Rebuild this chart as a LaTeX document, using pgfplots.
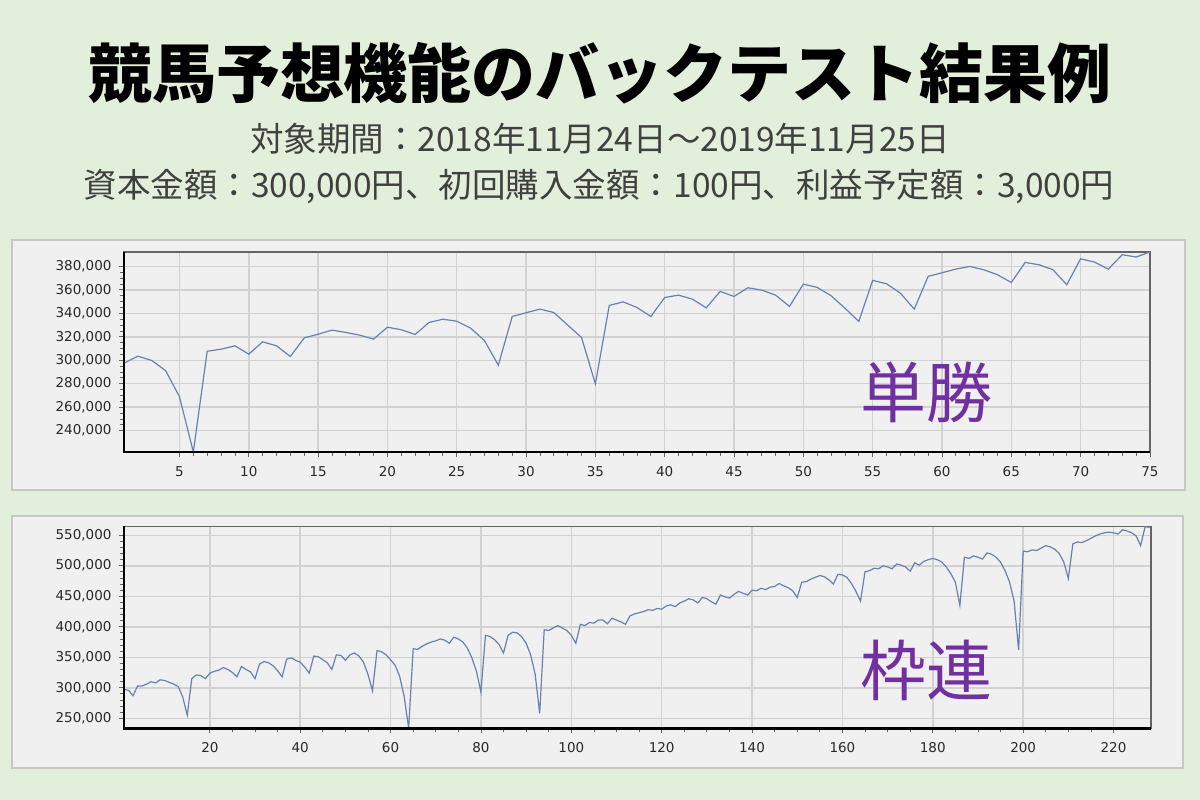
\documentclass[border=0pt]{standalone}
\usepackage{pgfplots}
\pgfplotsset{compat=1.18}
\usepackage{fontspec}
\newfontfamily\jp{Noto Sans CJK JP}
\newfontfamily\tickfont{DejaVu Sans}

\definecolor{bgc}{RGB}{226,239,218}
\definecolor{panelc}{RGB}{240,240,240}
\definecolor{panelb}{RGB}{200,200,200}
\definecolor{gridc}{RGB}{210,210,210}
\definecolor{framec}{RGB}{100,100,100}
\definecolor{linec}{RGB}{104,130,176}
\definecolor{purp}{RGB}{112,48,160}
\definecolor{subc}{RGB}{64,64,64}
\definecolor{tlc}{RGB}{40,40,40}

\pgfplotsset{
  panel/.style={
    scale only axis,
    anchor=south west,
    grid=major,
    major grid style={draw=gridc, line width=1.5pt},
    axis line style={draw=framec, line width=1.5pt},
    tick align=outside,
    xtick pos=bottom, ytick pos=left,
    tick style={draw=framec, line width=0.8pt},
    major tick length=5pt, minor tick length=4pt,
    ticklabel style={font=\tickfont\fontsize{13.5}{16}\selectfont, text=tlc},
    xticklabel style={yshift=-6pt},
    yticklabel style={xshift=-4pt},
    scaled y ticks=false,
    /pgf/number format/fixed,
    /pgf/number format/precision=0,
    /pgf/number format/1000 sep={,},
    /pgf/number format/assume math mode=true,
  },
}

\begin{document}
\begin{tikzpicture}[x=1pt,y=1pt]
\fill[bgc] (0,0) rectangle (1200,800);

% title and conditions
\node[font=\jp\bfseries\fontsize{64}{76}\selectfont] at (600,727) {競馬予想機能のバックテスト結果例};
\node[font=\jp\fontsize{33.5}{40}\selectfont, text=subc] at (600,661) {対象期間：2018年11月24日～2019年11月25日};
\node[font=\jp\fontsize{33.5}{40}\selectfont, text=subc] at (599,613) {資本金額：300,000円、初回購入金額：100円、利益予定額：3,000円};

% panels
\filldraw[fill=panelc, draw=panelb, line width=1.5pt] (12,310) rectangle (1185,560);
\filldraw[fill=panelc, draw=panelb, line width=1.5pt] (12,32) rectangle (1183,284);

% 単勝
\begin{axis}[panel, name=top,
  at={(124pt,348pt)}, width=1026pt, height=200pt,
  xmin=1, xmax=75, ymin=221800, ymax=392300,
  xtick={5,10,...,75}, minor x tick num=4,
  ytick={240000,260000,...,380000}, minor y tick num=3,
]
\addplot[linec, line width=1.2pt] coordinates {
(1,297500) (2,303500) (3,299800) (4,291200) (5,269000) (6,221800) (7,307700) (8,309400)
(9,312300) (10,305200) (11,315700) (12,312300) (13,303200) (14,319100) (15,322200) (16,325700)
(17,323700) (18,321400) (19,318000) (20,328200) (21,326000) (22,322000) (23,332200) (24,335000)
(25,333300) (26,327400) (27,316800) (28,295800) (29,337300) (30,340500) (31,343600) (32,340700)
(33,330000) (34,319400) (35,279900) (36,346700) (37,349800) (38,345000) (39,337300) (40,353500)
(41,355500) (42,352100) (43,344700) (44,358700) (45,354400) (46,361800) (47,359800) (48,355500)
(49,345900) (50,364900) (51,362100) (52,355000) (53,344400) (54,333100) (55,368100) (56,365200)
(57,357200) (58,343600) (59,371500) (60,374600) (61,377700) (62,380000) (63,377200) (64,372900)
(65,366300) (66,383400) (67,381400) (68,377200) (69,364400) (70,386500) (71,383700) (72,377700)
(73,390000) (74,388000) (75,392300)
};
\end{axis}
\draw[black, line width=2.5pt] (top.north west) -- (top.south west) -- (top.south east);
\node[font=\jp\fontsize{66}{70}\selectfont, text=purp] at (926,408) {単勝};

% 枠連
\begin{axis}[panel, name=bot,
  at={(124pt,71.7pt)}, width=1027pt, height=202pt,
  xmin=1, xmax=228.3, ymin=233600, ymax=564700,
  xtick={20,40,...,220}, minor x tick num=3,
  ytick={250000,300000,...,550000}, minor y tick num=4,
]
\addplot[linec, line width=1.2pt] coordinates {
(1,297000) (2,296000) (3,287000) (4,303000) (5,303000) (6,306000) (7,310000) (8,308000)
(9,313000) (10,312000) (11,309000) (12,306000) (13,302000) (14,285000) (15,255000) (16,315000)
(17,321000) (18,320000) (19,315000) (20,324000) (21,327000) (22,329000) (23,333000) (24,330000)
(25,325000) (26,318000) (27,335000) (28,330000) (29,326000) (30,315000) (31,339000) (32,343000)
(33,341000) (34,336000) (35,328000) (36,318000) (37,347000) (38,349000) (39,345000) (40,342000)
(41,334000) (42,324000) (43,352000) (44,351000) (45,346000) (46,341000) (47,330000) (48,354000)
(49,353000) (50,345000) (51,354000) (52,357000) (53,352000) (54,342000) (55,322000) (56,295000)
(57,361000) (58,359000) (59,354000) (60,346000) (61,337000) (62,319000) (63,286000) (64,233600)
(65,364000) (66,363000) (67,368000) (68,372000) (69,375000) (70,377000) (71,380000) (72,378000)
(73,373000) (74,383000) (75,380000) (76,375000) (77,365000) (78,349000) (79,327000) (80,293000)
(81,386000) (82,384000) (83,379000) (84,371000) (85,357000) (86,386000) (87,391000) (88,390000)
(89,384000) (90,373000) (91,354000) (92,322000) (93,258000) (94,395000) (95,394000) (96,398000)
(97,402000) (98,398000) (99,394000) (100,386000) (101,373000) (102,404000) (103,402000) (104,407000)
(105,406000) (106,411000) (107,411000) (108,405000) (109,414000) (110,411000) (111,408000) (112,404000)
(113,418000) (114,421000) (115,423000) (116,425000) (117,428000) (118,427000) (119,430000) (120,429000)
(121,434000) (122,436000) (123,433000) (124,439000) (125,442000) (126,446000) (127,444000) (128,439000)
(129,448000) (130,446000) (131,441000) (132,437000) (133,452000) (134,449000) (135,447000) (136,453000)
(137,458000) (138,455000) (139,452000) (140,460000) (141,459000) (142,463000) (143,461000) (144,465000)
(145,466000) (146,471000) (147,467000) (148,464000) (149,459000) (150,448000) (151,473000) (152,474000)
(153,478000) (154,481000) (155,484000) (156,482000) (157,477000) (158,470000) (159,486000) (160,485000)
(161,481000) (162,471000) (163,458000) (164,442000) (165,490000) (166,492000) (167,496000) (168,495000)
(169,500000) (170,498000) (171,495000) (172,503000) (173,501000) (174,498000) (175,491000) (176,505000)
(177,501000) (178,507000) (179,510000) (180,512000) (181,510000) (182,506000) (183,498000) (184,487000)
(185,473000) (186,435000) (187,514000) (188,512000) (189,516000) (190,514000) (191,511000) (192,521000)
(193,519000) (194,514000) (195,506000) (196,492000) (197,473000) (198,442000) (199,362000) (200,524000)
(201,523000) (202,526000) (203,525000) (204,529000) (205,533000) (206,531000) (207,527000) (208,520000)
(209,506000) (210,479000) (211,536000) (212,539000) (213,538000) (214,541000) (215,545000) (216,549000)
(217,552000) (218,554000) (219,555000) (220,554000) (221,552000) (222,559000) (223,557000) (224,554000)
(225,549000) (226,533000) (227,564000) (228,563000)
};
\end{axis}
\draw[black, line width=2.5pt] (bot.north west) -- (bot.south west) -- (bot.south east);
\node[font=\jp\fontsize{66}{70}\selectfont, text=purp] at (926,130) {枠連};
\end{tikzpicture}
\end{document}
